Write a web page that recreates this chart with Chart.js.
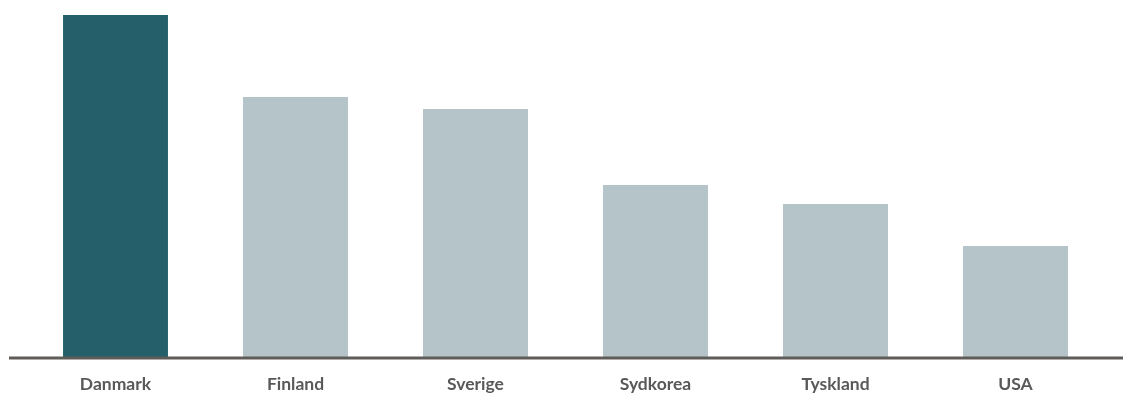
<!DOCTYPE html>
<html>
<head>
<meta charset="utf-8">
<script src="https://cdn.jsdelivr.net/npm/chart.js@4"></script>
<style>
  html,body{margin:0;padding:0;background:#fff;}
  #wrap{width:1128px;height:394px;position:relative;}
</style>
</head>
<body>
<div id="wrap"><canvas id="c"></canvas></div>
<script>
const categories = ["Danmark","Finland","Sverige","Sydkorea","Tyskland","USA"];
const values = [342, 260, 248, 172, 153, 111];
const barColors = ["#25606a","#b4c4c9","#b4c4c9","#b4c4c9","#b4c4c9","#b4c4c9"];

// baseline drawn wider than the plot area, like the original
const baseline = {
  id:'baseline',
  afterDatasetsDraw(chart){
    const ctx = chart.ctx;
    const y = chart.chartArea.bottom + 1;
    ctx.save();
    ctx.strokeStyle = '#5f5c5a';
    ctx.lineWidth = 3;
    ctx.beginPath();
    ctx.moveTo(9, y);
    ctx.lineTo(1123, y);
    ctx.stroke();
    ctx.restore();
  }
};

new Chart(document.getElementById('c'), {
  type:'bar',
  data:{
    labels: categories,
    datasets:[{
      data: values,
      backgroundColor: barColors,
      borderWidth:0,
      barPercentage:0.583,
      categoryPercentage:1
    }]
  },
  options:{
    responsive:true,
    maintainAspectRatio:false,
    animation:false,
    layout:{ padding:{ left:25.5, right:22.5, top:15, bottom:0 } },
    plugins:{ legend:{display:false}, tooltip:{enabled:false} },
    scales:{
      x:{
        grid:{ display:false, drawTicks:false },
        border:{ display:false },
        afterFit(scale){ scale.height = 37; },
        ticks:{ color:'#5a5858', padding:19, font:{ family:'Lato', size:17.5, weight:'bold', lineHeight:1 } }
      },
      y:{ display:false, min:0, max:342 }
    }
  },
  plugins:[baseline]
});
</script>
</body>
</html>
